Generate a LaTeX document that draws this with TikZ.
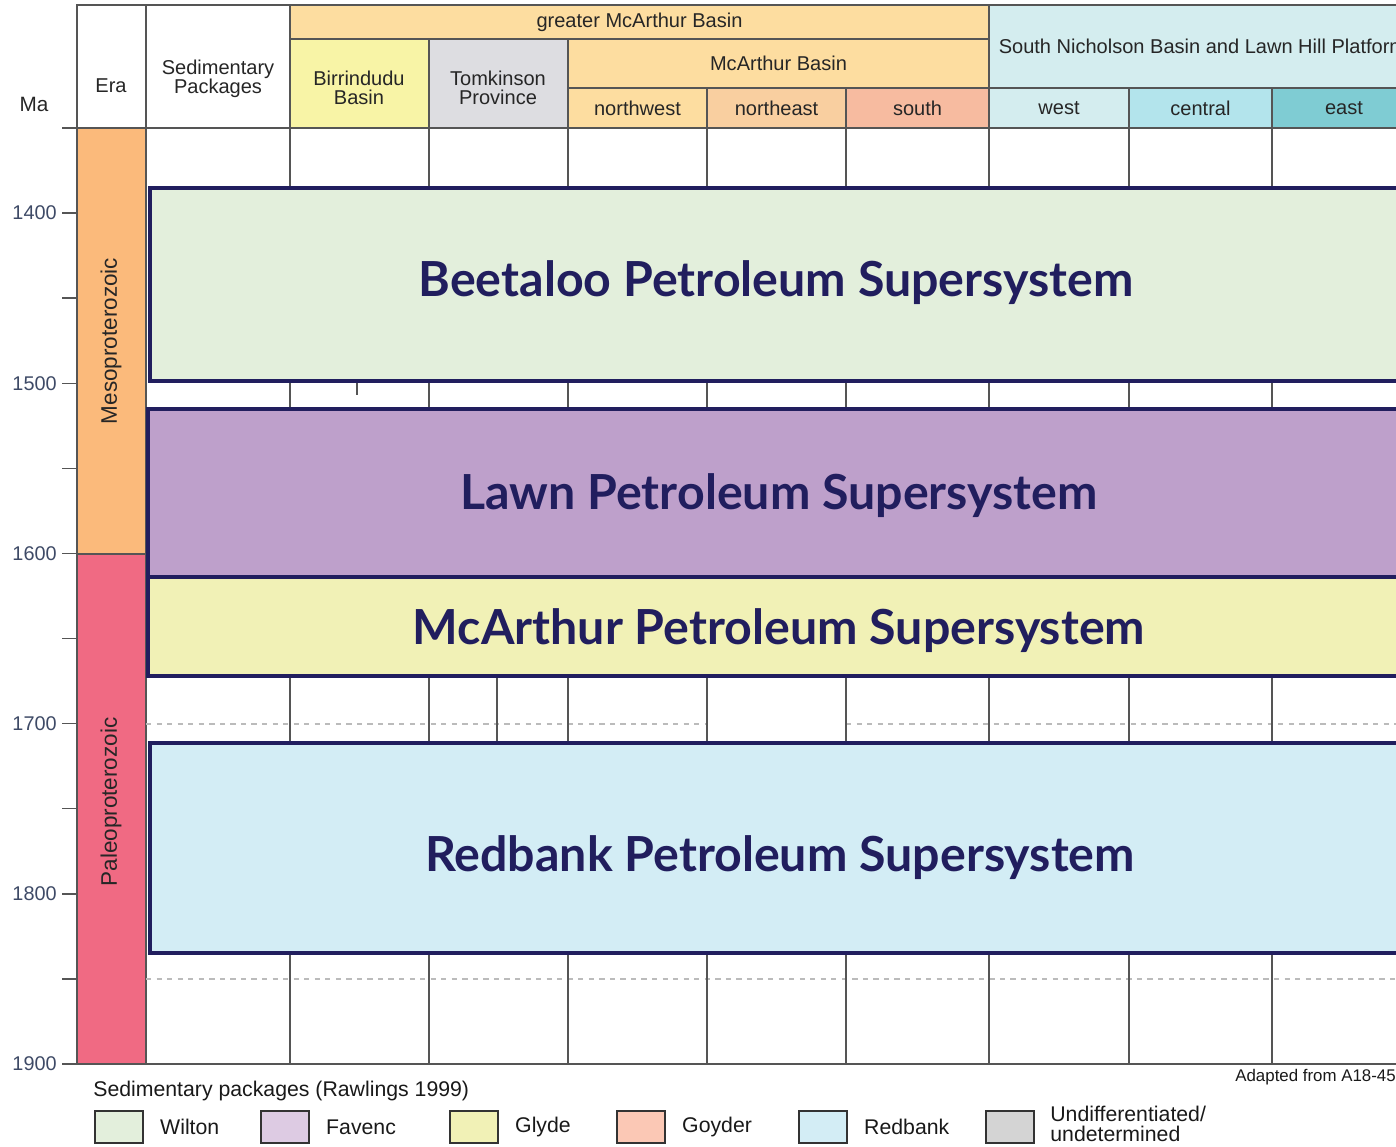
\documentclass[tikz,border=0pt]{standalone}
\usepackage{fontspec}
\setmainfont{Liberation Sans}
\newfontfamily\latofont{Lato}
\usetikzlibrary{positioning}

\definecolor{gridc}{HTML}{555555}
\definecolor{dashc}{HTML}{BBBBBB}
\definecolor{navyc}{HTML}{211E5E}
\definecolor{axisc}{HTML}{3E4A66}
% header colours
\definecolor{gmcac}{HTML}{FDDDA0}
\definecolor{birric}{HTML}{F8F4A6}
\definecolor{tomkc}{HTML}{DDDDE1}
\definecolor{nwc}{HTML}{FDDDA0}
\definecolor{nec}{HTML}{F9CFA0}
\definecolor{southc}{HTML}{F7BBA0}
\definecolor{snbc}{HTML}{D4EDEF}
\definecolor{westc}{HTML}{D4EDEF}
\definecolor{centralc}{HTML}{B3E4EC}
\definecolor{eastc}{HTML}{7FCCD3}
% eras
\definecolor{mesoc}{HTML}{FBBA7B}
\definecolor{paleoc}{HTML}{F06A83}
% supersystems and legend
\definecolor{wiltonc}{HTML}{E3EFDC}
\definecolor{favencc}{HTML}{DDCBE3}
\definecolor{lawnc}{HTML}{BEA0CB}
\definecolor{glydec}{HTML}{F1F1B6}
\definecolor{goyderc}{HTML}{FBC8B5}
\definecolor{redbankc}{HTML}{D3EDF5}
\definecolor{undifc}{HTML}{D4D4D4}

\newcommand{\hcell}[7]{%
  \draw[cellline, fill=#5] (#1,#2) rectangle (#3,#4);
  \node[hdrtext] (#6) at ({(#1+#3)/2},{(#2+#4)/2}) {#7};}

\begin{document}
\begin{tikzpicture}[x={(0.02cm,0cm)}, y={(0cm,-0.02cm)},
  cellline/.style={draw=gridc, line width=0.7pt},
  hdrtext/.style={font=\fontsize{11.4}{11}\selectfont, align=center, inner sep=0pt, text=black!85},
  supbox/.style={draw=navyc, line width=2.3pt},
  suptext/.style={font=\latofont\bfseries\fontsize{27.5}{30}\selectfont, text=navyc},
  ticklbl/.style={font=\fontsize{11.3}{12}\selectfont, text=axisc, anchor=east, inner sep=0pt},
  eratext/.style={font=\fontsize{12.8}{13}\selectfont, rotate=90, text=black!85},
  legbox/.style={draw=black!80, line width=1pt, minimum width=0.96cm, minimum height=0.64cm, inner sep=0pt},
  legtext/.style={font=\fontsize{12.1}{12}\selectfont, align=left, inner sep=0pt, text=black!90}]

\useasboundingbox (0,0) rectangle (1396,1146);

% Hlavicka

\draw[cellline, fill=white] (77,5) rectangle (146,128);
\node[hdrtext] (era) at (111,86) {Era};
\draw[cellline, fill=white] (146,5) rectangle (290,128);
\node[hdrtext] (sedpack) at (218,79) {Sedimentary\\Packages};
\hcell{290}{5}{989}{39}{gmcac}{gmca}{greater McArthur Basin}
\draw[cellline, fill=birric] (290,39) rectangle (429,128);
\node[hdrtext] (birri) at (359,88) {Birrindudu\\Basin};
\draw[cellline, fill=tomkc] (429,39) rectangle (568,128);
\node[hdrtext] (tomk) at (498,88) {Tomkinson\\Province};
\hcell{568}{39}{989}{88}{gmcac}{mca}{McArthur Basin}
\hcell{568}{88}{707}{128}{nwc}{nw}{northwest}
\hcell{707}{88}{846}{128}{nec}{ne}{northeast}
\hcell{846}{88}{989}{128}{southc}{south}{south}
\hcell{989}{5}{1416}{88}{snbc}{snb}{South Nicholson Basin and Lawn Hill Platform}
\hcell{989}{88}{1129}{128}{westc}{west}{west}
\hcell{1129}{88}{1272}{128}{centralc}{central}{central}
\hcell{1272}{88}{1416}{128}{eastc}{east}{east}
\node[hdrtext, font=\fontsize{11.8}{12}\selectfont] (ma) at (34,104) {Ma};

% Osa a ery

\foreach \m in {1400,1500,...,1900}
  \node[ticklbl] (t\m) at (57,{213+(\m-1400)*1.702}) {\m};
\foreach \m in {1350,1400,...,1900}
  \draw[gridc, line width=0.8pt] (62,{213+(\m-1400)*1.702}) -- (77,{213+(\m-1400)*1.702});

\draw[cellline, fill=mesoc] (77,128) rectangle (146,554);
\draw[cellline, fill=paleoc] (77,554) rectangle (146,1064);
\node[eratext] (meso) at (111,341) {Mesoproterozoic};
\node[eratext] (paleo) at (111,802) {Paleoproterozoic};

% Mrizka

\draw[dashc, dashed, line width=0.8pt] (146,724) -- (707,724) (846,724) -- (1416,724);
\draw[dashc, dashed, line width=0.8pt] (146,979) -- (1416,979);
\foreach \x in {290,429,568,707,846,989,1129,1272}
  \draw[cellline] (\x,128) -- (\x,1064);
\draw[cellline] (497,677) -- (497,741);
\draw[cellline] (357,383) -- (357,395);
\draw[cellline] (146,128) -- (1416,128);
\draw[cellline] (146,1064) -- (1416,1064);

% Supersystemy

\draw[supbox, fill=wiltonc] (150,188) rectangle (1420,381);
\node[suptext] (beetaloo) at (776,283) {Beetaloo Petroleum Supersystem};
\draw[supbox, fill=lawnc] (148,409) rectangle (1420,577);
\node[suptext] (lawn) at (779,496) {Lawn Petroleum Supersystem};
\draw[supbox, fill=glydec] (148,577) rectangle (1420,676);
\node[suptext] (mcarthur) at (779,631) {McArthur Petroleum Supersystem};
\draw[supbox, fill=redbankc] (150,743) rectangle (1420,953);
\node[suptext] (redbank) at (780,858) {Redbank Petroleum Supersystem};

% Legenda

\node[legtext, anchor=west] (legtitle) at (93,1091) {Sedimentary packages (Rawlings 1999)};
\node[legtext, anchor=west, font=\fontsize{9.6}{11}\selectfont] (adapted) at (1235,1077) {Adapted from A18-453};

\node[legbox, fill=wiltonc] (wiltonbox) at (119,1127) {};
\node[legtext, right=0.32cm of wiltonbox] (wilton) {Wilton};
\node[legbox, fill=favencc] (favencbox) at (285,1127) {};
\node[legtext, right=0.32cm of favencbox] (favenc) {Favenc};
\node[legbox, fill=glydec] (glydebox) at (474,1127) {};
\node[legtext, right=0.32cm of glydebox] (glyde) {Glyde};
\node[legbox, fill=goyderc] (goyderbox) at (641,1127) {};
\node[legtext, right=0.32cm of goyderbox] (goyder) {Goyder};
\node[legbox, fill=redbankc] (redbankbox) at (823,1127) {};
\node[legtext, right=0.32cm of redbankbox] (redbankleg) {Redbank};
\node[legbox, fill=undifc] (undifbox) at (1010,1127) {};
\node[legtext, anchor=west, font=\fontsize{12.1}{11.2}\selectfont] (undif) at (1050,1124) {Undifferentiated/\\undetermined};

\end{tikzpicture}
\end{document}
